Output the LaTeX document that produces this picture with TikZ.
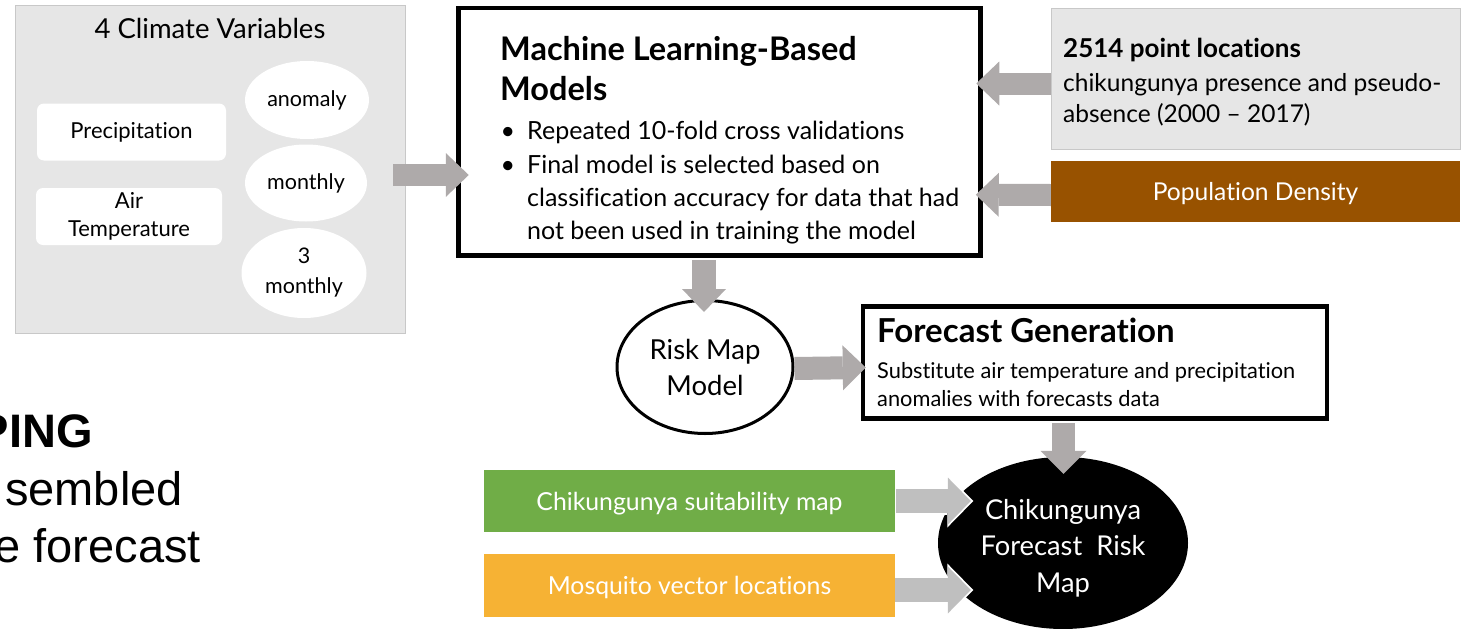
\documentclass[tikz,border=0pt]{standalone}
\usepackage{fontspec}
\usepackage{graphicx}
\setmainfont{Lato}[Ligatures=NoCommon]
\newfontfamily\leftfont{Liberation Sans}
\usetikzlibrary{arrows.meta,shapes.geometric}
\definecolor{panelfill}{HTML}{E6E6E6}
\definecolor{panelline}{HTML}{C8C8C8}
\definecolor{arrowgray}{HTML}{AEAAAA}
\definecolor{arrowlight}{HTML}{BFBFBF}
\definecolor{popbrown}{HTML}{985200}
\definecolor{suitgreen}{HTML}{70AD47}
\definecolor{mosqgold}{HTML}{F6B234}
\newcommand\sz[2]{\fontsize{#1}{#2}\selectfont}
\begin{document}
\begin{tikzpicture}[x=1pt,y=-1pt,
  txt/.style={inner sep=0pt, text=black},
  line/.style={inner sep=0pt, text=black, anchor=base west},
  panelbox/.style={draw=panelline, fill=panelfill, line width=0.8pt, inner sep=0pt},
  roundbox/.style={fill=white, rounded corners=7pt, inner sep=0pt, align=center},
  oval/.style={ellipse, fill=white, inner sep=0pt, align=center},
  heavybox/.style={draw=black, line width=4.5pt, fill=white, inner sep=0pt},
  colorbox/.style={inner sep=0pt, text=white, text depth=0pt},
  bigarrow/.style={arrowgray, line width=22pt, -{Triangle[width=44pt,length=23pt,line width=0pt]}},
  lightarrow/.style={arrowlight, line width=24pt, -{Triangle[width=47pt,length=23pt,line width=0pt]}},
  arrowhalo/.style={white, line width=28pt, -{Triangle[width=53pt,length=26pt,line width=0pt]}},
  mlfont/.style={font=\sz{25}{30}},
  ptfont/.style={font=\sz{24.5}{30}},
  fgfont/.style={font=\sz{21.8}{26}},
]
\useasboundingbox (0,0) rectangle (1465,629);

% left panel
\node[panelbox, minimum width=390pt, minimum height=328pt] (climate) at (210.5,169) {};
\node[txt, anchor=base, font=\sz{27.5}{30}] (cvtitle) at (210,38.5) {4 Climate Variables};
\node[roundbox, minimum width=189pt, minimum height=57pt, font=\sz{22}{28}] (precip) at (131.5,132) {Precipitation};
\node[roundbox, minimum width=186pt, minimum height=57pt, font=\sz{22}{28}] (airtemp) at (129,216.5) {Air\\Temperature};
\node[oval, minimum width=124pt, minimum height=78pt, font=\sz{21.5}{28}] (anom) at (307,100) {anomaly};
\node[oval, minimum width=122pt, minimum height=77pt, font=\sz{21.5}{28}] (monthly) at (306,183) {monthly};
\node[oval, minimum width=125pt, minimum height=90pt, font=\sz{21.5}{30}] (threemonthly) at (304,273) {3\\monthly};

% ML box
\node[heavybox, minimum width=522pt, minimum height=247.5pt] (ml) at (719.5,131.75) {};
\node[line, font=\bfseries\sz{32.5}{40}] (mltitle1) at (500,60) {Machine Learning-Based};
\node[line, font=\bfseries\sz{32.5}{40}] (mltitle2) at (500,100) {Models};
\node[line, mlfont] (mlb1) at (527,139) {\llap{\textbullet\hspace{12pt}}Repeated 10-fold cross validations};
\node[line, mlfont] (mlb2) at (527,173) {\llap{\textbullet\hspace{12pt}}Final model is selected based on};
\node[line, mlfont] (mlb3) at (527,206) {classification accuracy for data that had};
\node[line, mlfont] (mlb4) at (527,239) {not been used in training the model};

% right boxes
\node[panelbox, minimum width=409pt, minimum height=141pt] (pts) at (1255.5,78.5) {};
\node[line, font=\bfseries\sz{26}{30}] (ptstitle) at (1063,57) {2514 point locations};
\node[line, ptfont] (ptstext1) at (1063,91) {chikungunya presence and pseudo-};
\node[line, ptfont] (ptstext2) at (1063,122) {absence (2000 -- 2017)};
\node[colorbox, fill=popbrown, minimum width=409pt, minimum height=61pt, font=\sz{24.6}{28}] (pop) at (1255.5,191.5) {Population Density};

% risk map
\node[draw=black, line width=3pt, ellipse, fill=white, minimum width=176pt, minimum height=133pt, inner sep=0pt, align=center, font=\sz{27.5}{36}] (risk) at (705,367) {Risk Map\\Model};

% forecast generation
\node[heavybox, minimum width=464pt, minimum height=112pt] (fg) at (1095,362.5) {};
\node[line, font=\bfseries\sz{33}{34}] (fgtitle) at (877,342) {Forecast Generation};
\node[line, fgfont] (fgtext1) at (877,378) {Substitute air temperature and precipitation};
\node[line, fgfont] (fgtext2) at (877,406) {anomalies with forecasts data};

% final
\node[ellipse, fill=black, minimum width=250pt, minimum height=172pt, inner sep=0pt] (final) at (1063,543) {};
\node[inner sep=0pt, text=white, align=center, font=\sz{27.3}{36.5}] (finaltext) at (1063,548) {Chikungunya\\Forecast\ \ Risk\\Map};

% coloured inputs
\node[colorbox, fill=suitgreen, minimum width=411pt, minimum height=62pt, font=\sz{24.8}{28}] (suit) at (689.5,501) {Chikungunya suitability map};
\node[colorbox, fill=mosqgold, minimum width=411pt, minimum height=63pt, font=\sz{24.8}{28}] (mosq) at (689.5,585.5) {Mosquito vector locations};

% arrows
\draw[bigarrow] ([shift={(-12.5,6)}]climate.east) -- ([shift={(12.5,43.25)}]ml.west);
\draw[bigarrow] ([shift={(0,5)}]pts.west) -- ([shift={(-6.5,-48.25)}]ml.east);
\draw[bigarrow] ([shift={(0,3.5)}]pop.west) -- ([shift={(-7,63)}]ml.east);
\draw[bigarrow, line width=24pt] ([shift={(-15.5,2.5)}]ml.south) -- ([shift={(-1,13)}]risk.north);
\draw[bigarrow, line width=23pt, -{Triangle[width=45pt,length=23pt,line width=0pt]}] ([shift={(0,1.5)}]risk.east) -- ([shift={(5,5)}]fg.west);
\draw[bigarrow, line width=23pt, -{Triangle[width=46pt,length=23pt,line width=0pt]}] ([shift={(-31.5,2)}]fg.south) -- ([shift={(0.5,17)}]final.north);
\draw[arrowhalo] ([shift={(1,0)}]suit.east) -- ([shift={(35.5,-42)}]final.west);
\draw[lightarrow] ([shift={(1,0)}]suit.east) -- ([shift={(33,-42)}]final.west);
\draw[arrowhalo] ([shift={(0,4.5)}]mosq.east) -- ([shift={(35.5,47)}]final.west);
\draw[lightarrow] ([shift={(0,4.5)}]mosq.east) -- ([shift={(33,47)}]final.west);

% cut-off text at left
\begin{scope}
\clip (0,380) rectangle (300,600);
\node[txt, anchor=base east, font=\leftfont\bfseries\sz{47}{50}] (ping) at (93,447) {PING};
\node[txt, anchor=base east, font=\leftfont\sz{47}{50}] (sembled) at (183,505) {sembled};
\node[txt, anchor=base east, font=\leftfont\sz{47}{50}] (eforecast) at (201,562) {e forecast};
\end{scope}
\end{tikzpicture}
\end{document}
